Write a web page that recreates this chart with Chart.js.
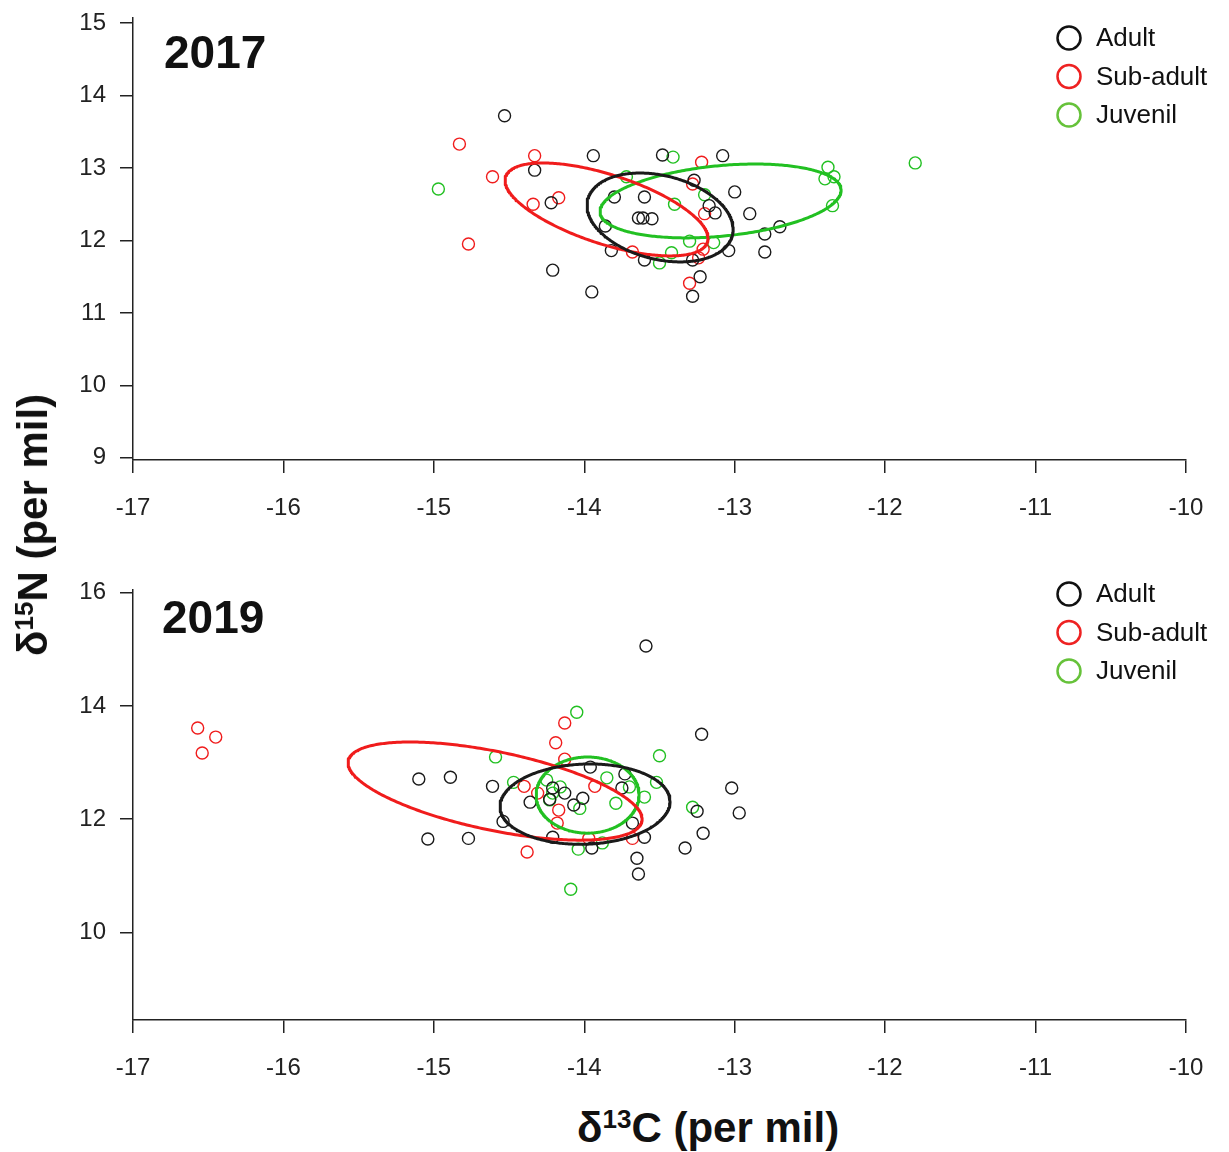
<!DOCTYPE html>
<html>
<head>
<meta charset="utf-8">
<script src="https://cdn.jsdelivr.net/npm/chart.js@4.4.0/dist/chart.umd.min.js"></script>
<style>
  html, body { margin: 0; padding: 0; background: #fff; }
  body { width: 1229px; height: 1152px; position: relative; overflow: hidden; font-family: "Liberation Sans", Arial, sans-serif; color: #111; }
  canvas { position: absolute; left: 0; }
  #c2017 { top: 0; }
  #c2019 { top: 560px; }
  .year { position: absolute; font-weight: bold; font-size: 46px; line-height: 1; }
  .axtitle { position: absolute; font-weight: bold; font-size: 42px; line-height: 1; white-space: nowrap; }
  sup { font-size: 62%; vertical-align: 0.55em; line-height: 0; }
</style>
</head>
<body>
<canvas id="c2017" width="1229" height="540"></canvas>
<canvas id="c2019" width="1229" height="540"></canvas>
<div class="year" style="left:164px; top:29px;">2017</div>
<div class="year" style="left:162px; top:594px;">2019</div>
<div class="axtitle" style="left:577px; top:1107px;">δ<sup>13</sup>C (per mil)</div>
<div class="axtitle" style="left:33px; top:525px; transform: translate(-50%, -50%) rotate(-90deg);">δ<sup>15</sup>N (per mil)</div>
<script>
// tick labels
var xTicks = [-17, -16, -15, -14, -13, -12, -11, -10];
var yTicks2017 = [9, 10, 11, 12, 13, 14, 15];
var yTicks2019 = [10, 12, 14, 16];

var groups = ["Adult", "Sub-adult", "Juvenil"];
var colors = ["#1a1a1a", "#f01c1c", "#22c022"];
var legendColors = ["#111111", "#ee2222", "#66c23a"];

// 2017 [d13C, d15N]
var adult2017 = [[-14.53, 13.72], [-13.94, 13.17], [-13.48, 13.18], [-13.08, 13.17], [-14.33, 12.97],
  [-14.22, 12.52], [-13.80, 12.60], [-13.60, 12.60], [-13.64, 12.31], [-13.61, 12.31], [-13.55, 12.30],
  [-13.86, 12.20], [-13.27, 12.83], [-13.00, 12.67], [-13.17, 12.48], [-13.13, 12.38], [-12.90, 12.37],
  [-12.70, 12.19], [-12.80, 12.09], [-12.80, 11.84], [-13.04, 11.86], [-13.82, 11.86], [-13.60, 11.73],
  [-13.28, 11.73], [-13.23, 11.50], [-13.28, 11.23], [-14.21, 11.59], [-13.95, 11.29]];
var subadult2017 = [[-14.83, 13.33], [-14.33, 13.17], [-14.61, 12.88], [-14.34, 12.50], [-14.17, 12.59],
  [-14.77, 11.95], [-13.22, 13.08], [-13.28, 12.78], [-13.20, 12.37], [-13.68, 11.84], [-13.21, 11.88],
  [-13.24, 11.76], [-13.30, 11.41]];
var juvenil2017 = [[-14.97, 12.71], [-13.41, 13.15], [-13.72, 12.88], [-13.40, 12.50], [-13.20, 12.63],
  [-13.30, 11.99], [-13.14, 11.97], [-13.42, 11.83], [-13.50, 11.69], [-11.80, 13.07], [-12.38, 13.01],
  [-12.40, 12.85], [-12.34, 12.88], [-12.35, 12.48]];

// 2019 [d13C, d15N]
var adult2019 = [[-13.59, 15.06], [-13.22, 13.50], [-15.10, 12.71], [-14.89, 12.74], [-14.61, 12.58],
  [-13.02, 12.55], [-12.97, 12.11], [-13.25, 12.14], [-13.21, 11.75], [-13.33, 11.49], [-13.65, 11.31],
  [-13.64, 11.03], [-15.04, 11.65], [-14.77, 11.66], [-14.54, 11.96], [-14.21, 11.68], [-13.95, 11.49],
  [-13.60, 11.68], [-13.96, 12.92], [-13.73, 12.80], [-13.75, 12.55], [-14.36, 12.30], [-14.21, 12.55],
  [-14.13, 12.46], [-14.07, 12.25], [-14.01, 12.37], [-13.68, 11.93], [-14.23, 12.35]];
var subadult2019 = [[-16.57, 13.61], [-16.45, 13.45], [-16.54, 13.17], [-14.13, 13.70], [-14.19, 13.35],
  [-14.13, 13.06], [-14.40, 12.58], [-14.31, 12.46], [-13.93, 12.58], [-14.17, 12.16], [-14.18, 11.93],
  [-14.38, 11.42], [-13.97, 11.66], [-13.68, 11.66]];
var juvenil2019 = [[-14.05, 13.89], [-14.59, 13.10], [-13.50, 13.12], [-14.47, 12.65], [-14.25, 12.69],
  [-14.16, 12.57], [-14.23, 12.34], [-14.21, 12.46], [-14.03, 12.19], [-13.85, 12.73], [-13.70, 12.57],
  [-13.60, 12.39], [-13.52, 12.65], [-13.79, 12.28], [-13.28, 12.21], [-14.04, 11.47], [-13.88, 11.58],
  [-14.09, 10.76]];

// standard ellipses: centre x, centre y, then two conjugate half-axes (x, y)
var adultEllipse2017 = [-13.496, 12.317, 0.481, -0.248, -0.067, -0.561];
var subadultEllipse2017 = [-13.852, 12.428, 0.671, -0.452, -0.071, -0.455];
var juvenilEllipse2017 = [-13.094, 12.545, 0.801, 0.160, 0.023, -0.484];
var adultEllipse2019 = [-13.995, 12.265, 0.565, 0.053, 0.009, -0.708];
var subadultEllipse2019 = [-14.593, 12.496, 0.976, -0.538, -0.053, -0.680];
var juvenilEllipse2019 = [-13.978, 12.425, 0.342, 0.0, 0.0, -0.673];

var fontFamily = '"Liberation Sans", Arial, sans-serif';

function toXY(arr) {
  return arr.map(function (p) { return { x: p[0], y: p[1] }; });
}

function ellipseOutline(e) {
  var pts = [];
  for (var i = 0; i <= 360; i++) {
    var t = i / 360 * 2 * Math.PI;
    pts.push({ x: e[0] + e[2] * Math.cos(t) + e[4] * Math.sin(t),
               y: e[1] + e[3] * Math.cos(t) + e[5] * Math.sin(t) });
  }
  return pts;
}

var cornerLegend = {
  id: "cornerLegend",
  afterDraw: function (chart, args, opts) {
    var ctx = chart.ctx;
    ctx.save();
    ctx.font = "26px " + fontFamily;
    ctx.textBaseline = "middle";
    groups.forEach(function (lab, i) {
      var y = opts.top + i * 38.5;
      ctx.beginPath();
      ctx.arc(1069, y, 11.5, 0, Math.PI * 2);
      ctx.strokeStyle = legendColors[i];
      ctx.lineWidth = 2.5;
      ctx.stroke();
      ctx.fillStyle = "#111";
      ctx.fillText(lab, 1096, y + 1);
    });
    ctx.restore();
  }
};

function axisStyle() {
  return {
    grid: { drawOnChartArea: false, drawTicks: true, tickLength: 13, color: "#222", lineWidth: 1.5 },
    border: { display: true, color: "#222", width: 1.5 },
    ticks: { color: "#222", font: { size: 24, family: fontFamily }, autoSkip: false, maxRotation: 0 }
  };
}

function makeChart(id, pts, ells, yMin, yMax, yTicks, padTop, legendTop) {
  var datasets = [];
  for (var g = 0; g < 3; g++) {
    datasets.push({
      label: groups[g] + " ellipse",
      data: ellipseOutline(ells[g]),
      showLine: true, fill: false, pointRadius: 0, tension: 0,
      borderColor: colors[g], borderWidth: 3,
      borderJoinStyle: "round", borderCapStyle: "round"
    });
  }
  for (var k = 0; k < 3; k++) {
    datasets.push({
      label: groups[k],
      data: toXY(pts[k]),
      showLine: false,
      pointStyle: "circle", pointRadius: 6,
      borderColor: colors[k], borderWidth: 1.4,
      backgroundColor: "rgba(0,0,0,0)"
    });
  }
  var xs = axisStyle();
  xs.type = "linear"; xs.min = -17; xs.max = -10;
  xs.ticks.padding = 21;
  xs.afterBuildTicks = function (s) { s.ticks = xTicks.map(function (v) { return { value: v }; }); };
  xs.afterFit = function (s) { s.height = 80; s.paddingLeft = 0; s.paddingRight = 0; };
  var ys = axisStyle();
  ys.type = "linear"; ys.min = yMin; ys.max = yMax;
  ys.ticks.padding = 14;
  ys.afterBuildTicks = function (s) { s.ticks = yTicks.map(function (v) { return { value: v }; }); };
  ys.afterFit = function (s) { s.width = 133; s.paddingTop = 0; s.paddingBottom = 0; };

  return new Chart(document.getElementById(id), {
    type: "scatter",
    data: { datasets: datasets },
    options: {
      responsive: false,
      animation: false,
      layout: { padding: { top: padTop, right: 43, left: 0, bottom: 0 } },
      plugins: { legend: { display: false }, tooltip: { enabled: false }, cornerLegend: { top: legendTop } },
      scales: { x: xs, y: ys }
    },
    plugins: [cornerLegend]
  });
}

makeChart("c2017", [adult2017, subadult2017, juvenil2017],
  [adultEllipse2017, subadultEllipse2017, juvenilEllipse2017], 8.97, 15.07, yTicks2017, 18, 38);
makeChart("c2019", [adult2019, subadult2019, juvenil2019],
  [adultEllipse2019, subadultEllipse2019, juvenilEllipse2019], 8.45, 16.05, yTicks2019, 30, 34);
</script>
</body>
</html>
